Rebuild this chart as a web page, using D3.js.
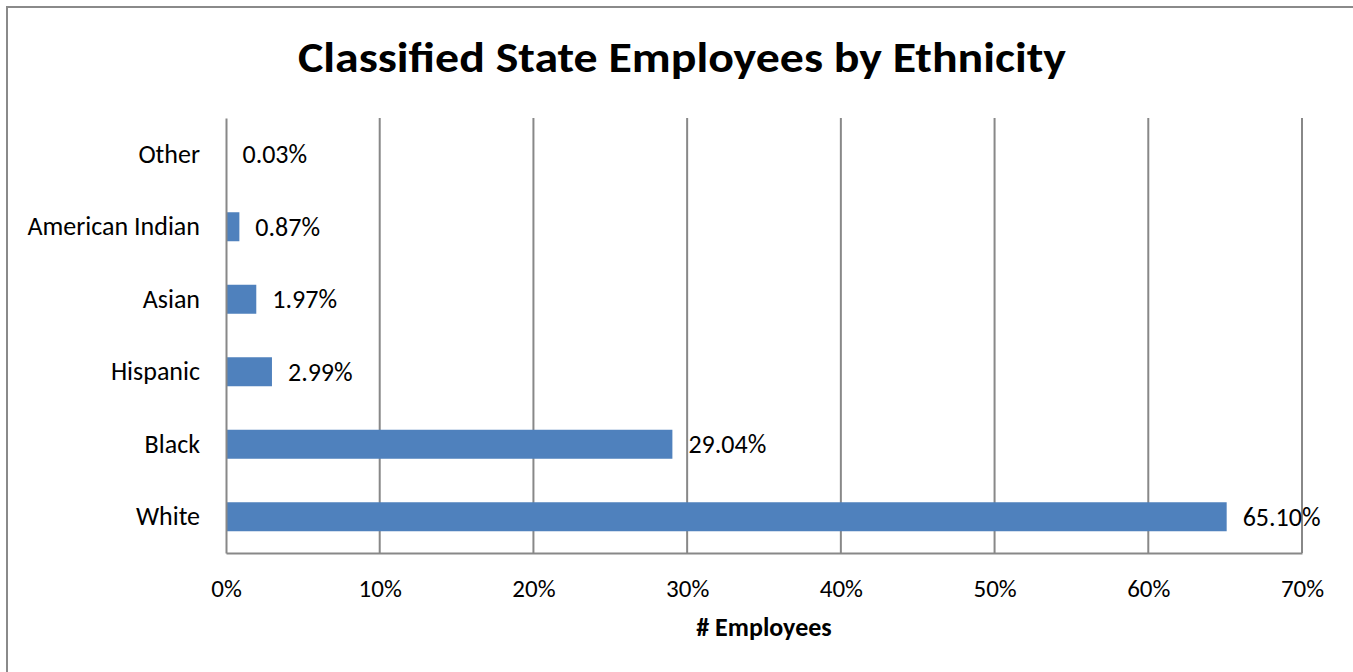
<!DOCTYPE html>
<html>
<head>
<meta charset="utf-8">
<script src="https://cdn.jsdelivr.net/npm/d3@7"></script>
<style>
  body { margin: 0; background: #fff; }
  svg text { font-family: Carlito, "Open Sans", "Liberation Sans", sans-serif; fill: #000; }
</style>
</head>
<body>
<div id="chart"></div>
<script>
const categories = ["Other", "American Indian", "Asian", "Hispanic", "Black", "White"];
const values = [0.03, 0.87, 1.97, 2.99, 29.04, 65.10];
const valueLabels = ["0.03%", "0.87%", "1.97%", "2.99%", "29.04%", "65.10%"];
const xTicks = [0, 10, 20, 30, 40, 50, 60, 70];

const W = 1353, H = 672;
const margin = { top: 118, right: 51, bottom: 119, left: 226 };
const width = W - margin.left - margin.right;
const height = H - margin.top - margin.bottom;

const svg = d3.select("#chart").append("svg")
    .attr("width", W)
    .attr("height", H);

// outer frame (runs off the right/bottom edge like the original)
svg.append("rect")
    .attr("x", 7).attr("y", 7)
    .attr("width", W + 20).attr("height", H + 20)
    .attr("fill", "none")
    .attr("stroke", "#8a8a8a")
    .attr("stroke-width", 2);

svg.append("text")
    .attr("x", 682).attr("y", 72)
    .attr("text-anchor", "middle")
    .attr("textLength", 768)
    .attr("lengthAdjust", "spacingAndGlyphs")
    .style("font-size", "43px")
    .style("font-weight", "bold")
    .text("Classified State Employees by Ethnicity");

const g = svg.append("g")
    .attr("transform", `translate(${margin.left},${margin.top})`);

const xScale = d3.scaleLinear().domain([0, 70]).range([0, width]);
const yScale = d3.scaleBand().domain(categories).range([0, height]).paddingInner(0.6).paddingOuter(0.3);

// gridlines
g.append("g")
    .selectAll("line")
    .data(xTicks.slice(1))
    .enter().append("line")
    .attr("x1", d => xScale(d)).attr("x2", d => xScale(d))
    .attr("y1", 0).attr("y2", height)
    .attr("stroke", "#888")
    .attr("stroke-width", 2);

// bars
g.append("g")
    .selectAll("rect")
    .data(categories)
    .enter().append("rect")
    .attr("x", xScale(0))
    .attr("y", d => yScale(d))
    .attr("width", (d, i) => xScale(values[i]) - xScale(0))
    .attr("height", yScale.bandwidth())
    .attr("fill", "#4f81bd");

// value labels
g.append("g")
    .selectAll("text")
    .data(categories)
    .enter().append("text")
    .attr("x", (d, i) => xScale(values[i]) + 16)
    .attr("y", d => yScale(d) + yScale.bandwidth() / 2)
    .attr("dy", "0.35em")
    .style("font-size", "26px")
    .text((d, i) => valueLabels[i]);

// y axis
const yAxis = g.append("g")
    .call(d3.axisLeft(yScale).tickSize(0).tickPadding(26));
yAxis.select(".domain").attr("stroke", "#888").attr("stroke-width", 2);
yAxis.selectAll("text").style("font-size", "26px").attr("font-family", null);

// x axis
const xAxis = g.append("g")
    .attr("transform", `translate(0,${height})`)
    .call(d3.axisBottom(xScale).tickValues(xTicks).tickSize(0).tickPadding(26).tickFormat(d => d + "%"));
xAxis.select(".domain").attr("stroke", "#888").attr("stroke-width", 2);
xAxis.selectAll("text").style("font-size", "25px").attr("font-family", null);

svg.append("text")
    .attr("x", margin.left + width / 2)
    .attr("y", 636)
    .attr("text-anchor", "middle")
    .style("font-size", "26px")
    .style("font-weight", "bold")
    .text("# Employees");
</script>
</body>
</html>
